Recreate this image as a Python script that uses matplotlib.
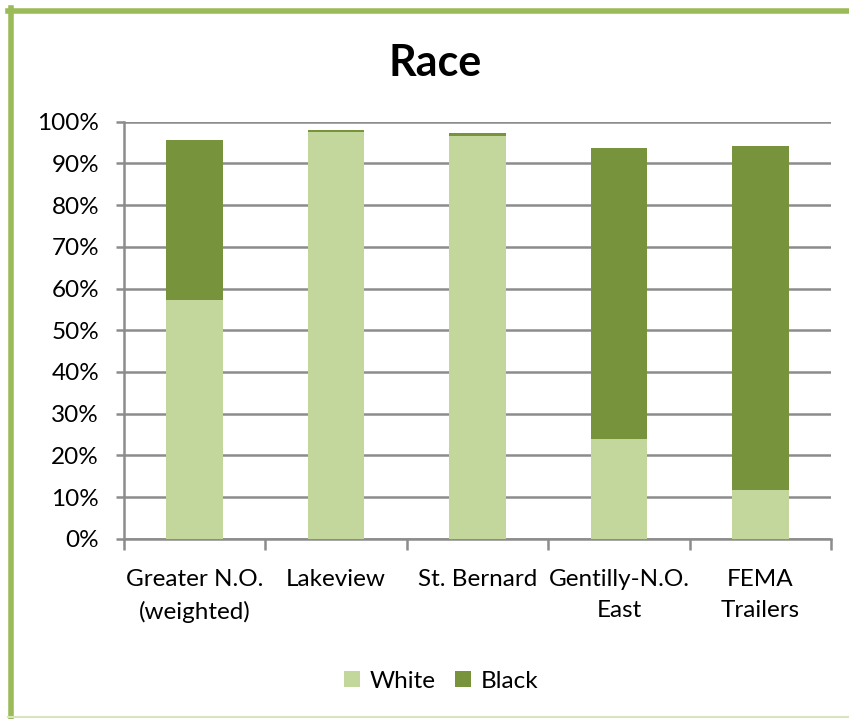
"""
Stacked bar chart of race shares (White / Black) across neighbourhoods.
"""
import matplotlib
matplotlib.use('Agg')
import matplotlib.pyplot as plt
from matplotlib.lines import Line2D
import numpy as np

categories = ['Greater N.O.\n(weighted)', 'Lakeview', 'St. Bernard', 'Gentilly-N.O.\nEast', 'FEMA\nTrailers']
white = [57.2, 97.5, 96.6, 23.9, 11.7]
black = [38.4, 0.5, 0.7, 69.8, 82.5]
yticks = [0, 10, 20, 30, 40, 50, 60, 70, 80, 90, 100]

c_white = '#C3D69B'
c_black = '#77933C'
c_grid = '#8C8C8C'

plt.rcParams['font.family'] = ['Lato', 'DejaVu Sans']

fig = plt.figure(figsize=(8.49, 7.19), dpi=100)
ax = fig.add_axes([124/849, 1 - 538.7/719, (831 - 124)/849, (538.7 - 121.7)/719])

x = np.arange(len(categories))
ax.bar(x, white, width=0.40, color=c_white, label='White', zorder=3)
ax.bar(x, black, width=0.40, bottom=white, color=c_black, label='Black', zorder=3)

ax.set_xlim(-0.5, len(categories) - 0.5)
ax.set_ylim(0, 100)
ax.set_yticks(yticks)
ax.set_yticklabels(['%d%%' % v for v in yticks], fontsize=17.5)
ax.yaxis.grid(True, color=c_grid, lw=1.8, zorder=0)
ax.set_axisbelow(True)

# category labels centred, tick marks on the category boundaries
ax.set_xticks(x)
ax.set_xticklabels(categories, fontsize=17.5, linespacing=1.6)
ax.tick_params(axis='x', length=0, pad=22)
ax.set_xticks(np.arange(len(categories) + 1) - 0.5, minor=True)
ax.tick_params(axis='x', which='minor', length=8, width=1.8, color=c_grid)
ax.tick_params(axis='y', length=6, width=1.8, color=c_grid, pad=12)

for s in ['top', 'right']:
    ax.spines[s].set_visible(False)
for s in ['left', 'bottom']:
    ax.spines[s].set_color(c_grid)
    ax.spines[s].set_linewidth(1.8)

fig.text(435/849, 1 - 63/719, 'Race', ha='center', va='center', fontsize=31, fontweight='bold')

fig.legend(loc='center', bbox_to_anchor=(441/849, 1 - 681/719), ncol=2, frameon=False,
           fontsize=17.5, handlelength=0.65, handleheight=0.65, handletextpad=0.4, columnspacing=0.8)

# chart border (green frame, cropped at right and bottom)
fig.add_artist(Line2D([10.5/849, 10.5/849], [0, 1 - 8/719], transform=fig.transFigure, color='#9BBB59', lw=4))
fig.add_artist(Line2D([8/849, 1], [1 - 10.5/719, 1 - 10.5/719], transform=fig.transFigure, color='#9BBB59', lw=4))
fig.add_artist(Line2D([8/849, 1], [1 - 717/719, 1 - 717/719], transform=fig.transFigure, color='#D7E4BD', lw=1.5))

fig.savefig('out.png', dpi=100)
